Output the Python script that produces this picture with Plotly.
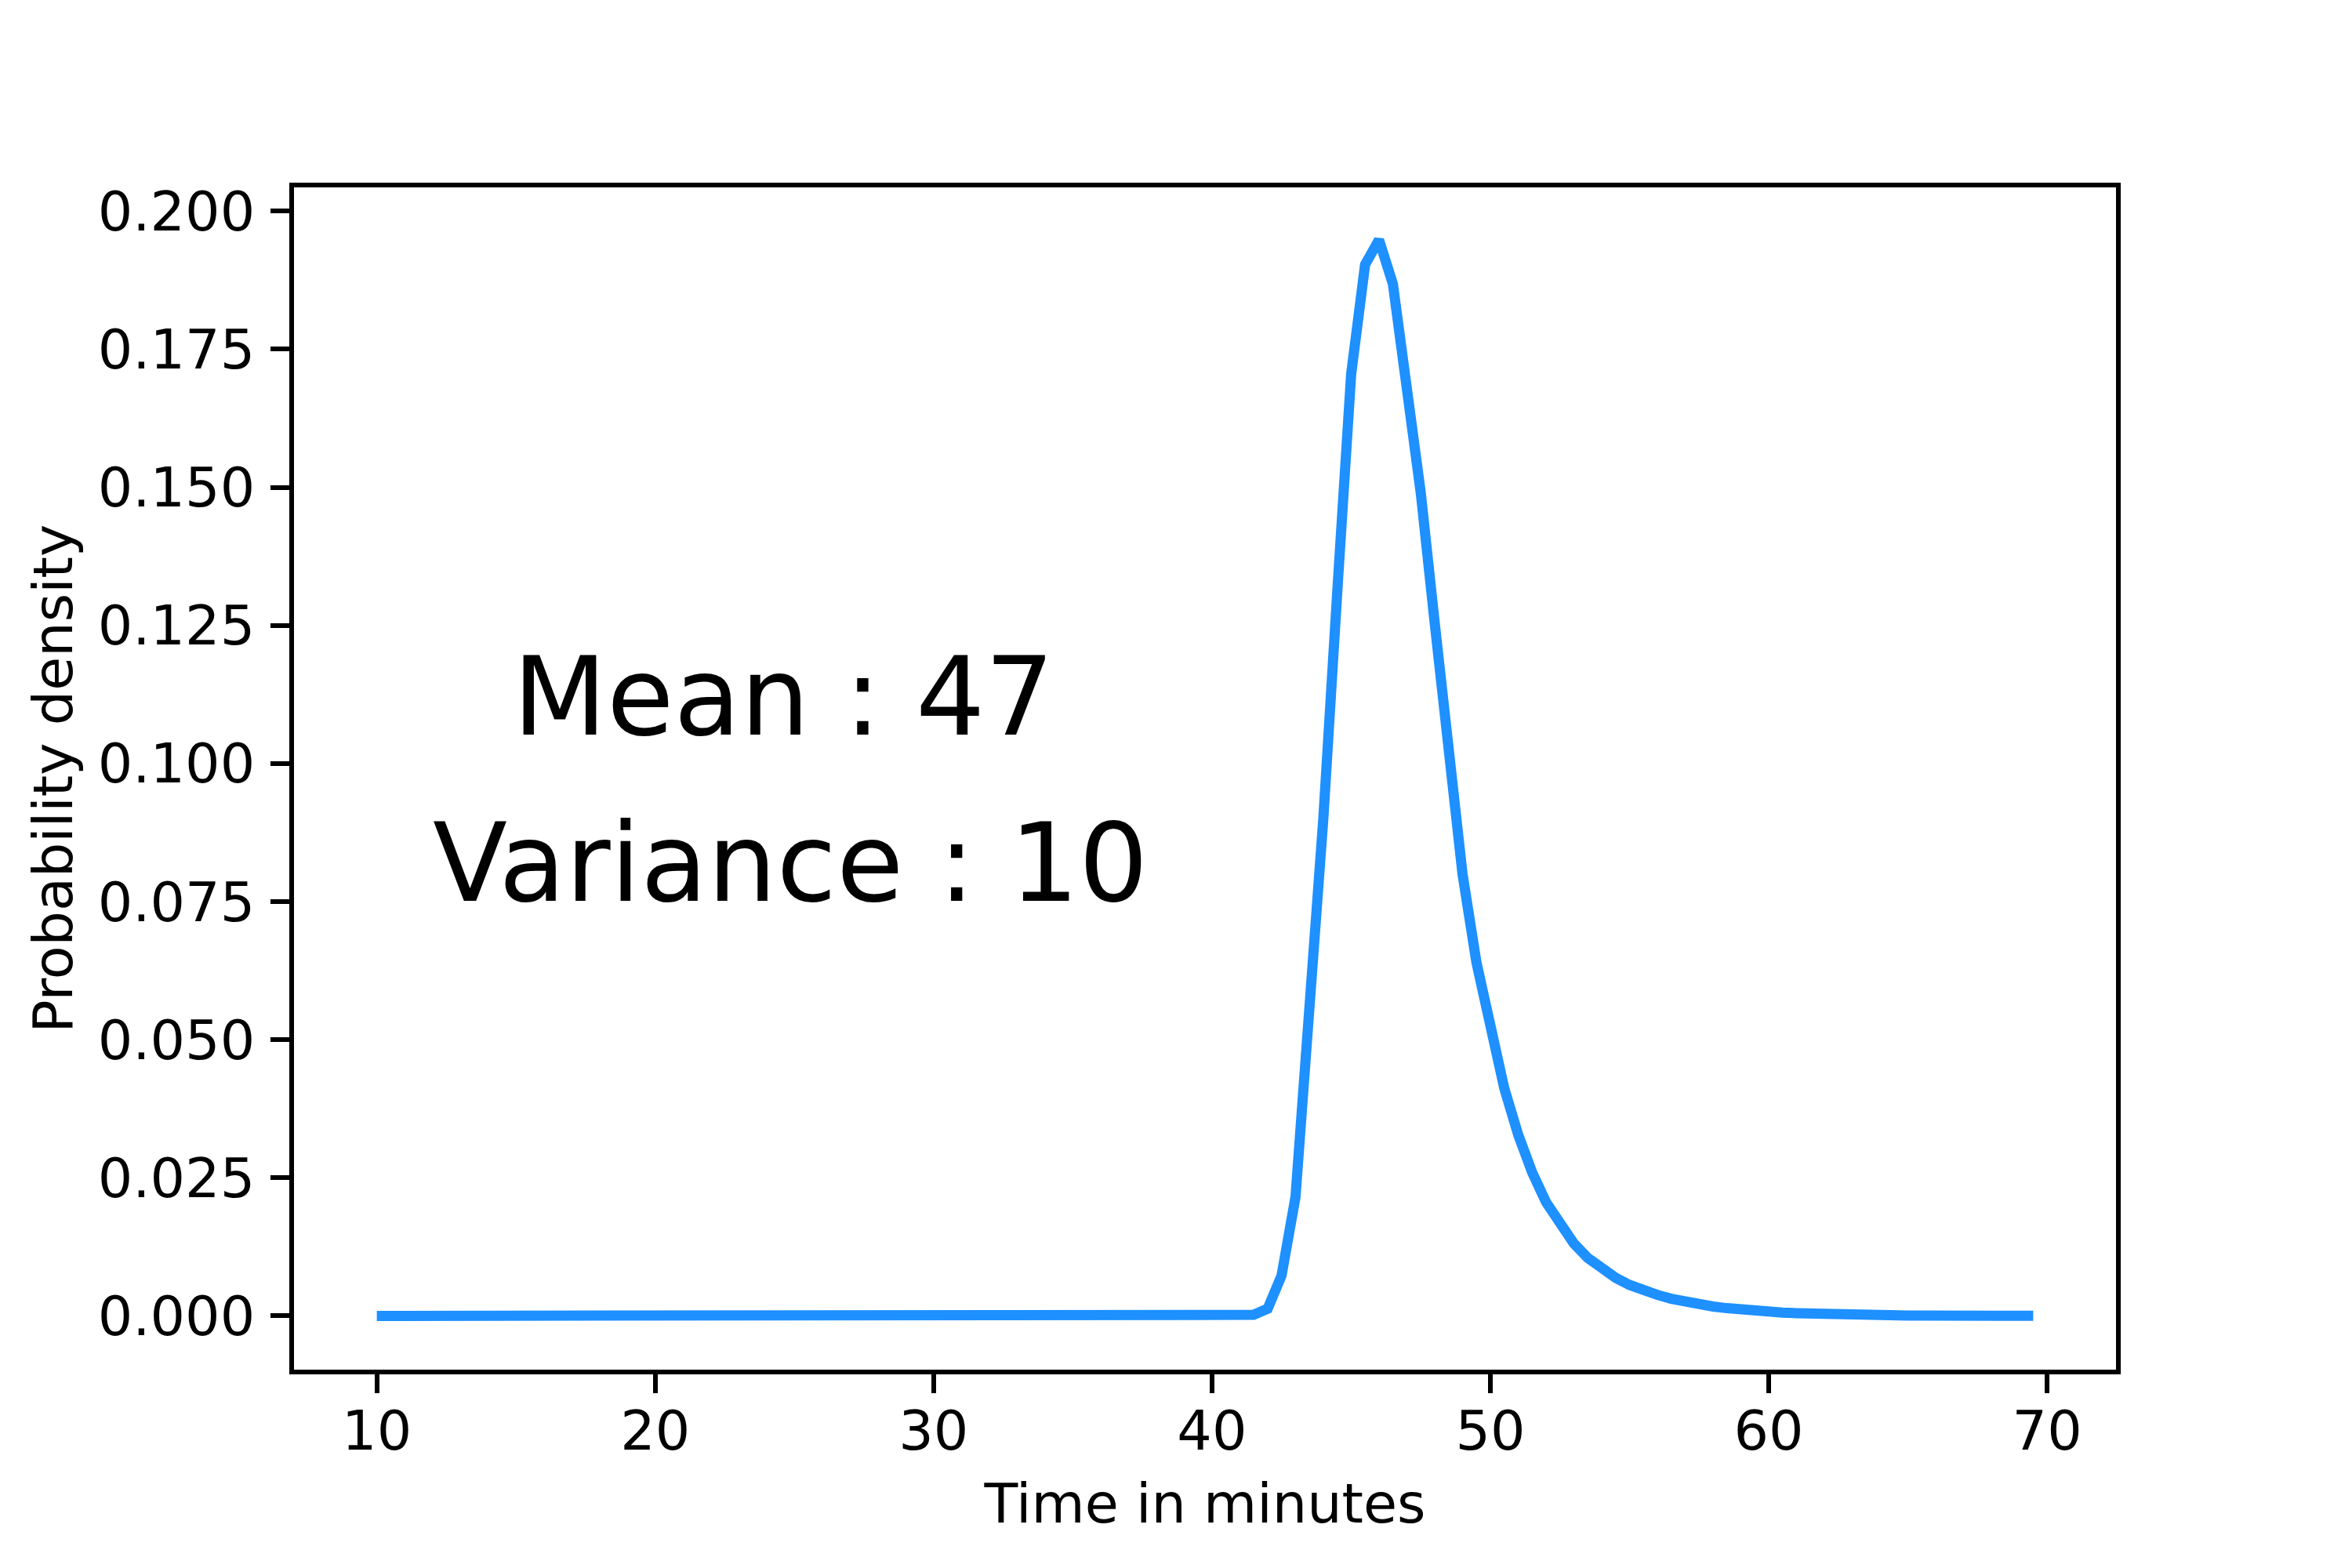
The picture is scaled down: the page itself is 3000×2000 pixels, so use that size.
import plotly.graph_objects as go

# ---- data ----
x_minutes = [10 + 0.5 * i for i in range(120)]  # 10.0 .. 69.5

density_by_minute = {
    41.0: 0.0000, 41.5: 0.0002, 42.0: 0.0013, 42.5: 0.0073, 43.0: 0.0215,
    43.5: 0.0530, 44.0: 0.0900, 44.5: 0.1310, 45.0: 0.1705, 45.5: 0.1903,
    46.0: 0.1948, 46.5: 0.1868, 47.0: 0.1695, 47.5: 0.1490, 48.0: 0.1255,
    48.5: 0.1010, 49.0: 0.0800, 49.5: 0.0640, 50.0: 0.0515, 50.5: 0.0412,
    51.0: 0.0328, 51.5: 0.0260, 52.0: 0.0206, 52.5: 0.0164, 53.0: 0.0131,
    53.5: 0.0105, 54.0: 0.0085, 54.5: 0.0069, 55.0: 0.0056, 55.5: 0.0046,
    56.0: 0.0038, 56.5: 0.0031, 57.0: 0.0025, 57.5: 0.0021, 58.0: 0.0017,
    58.5: 0.0014, 59.0: 0.0011, 59.5: 0.0009, 60.0: 0.0007, 60.5: 0.0006,
    61.0: 0.0005, 61.5: 0.0004, 62.0: 0.0003, 62.5: 0.00025, 63.0: 0.0002,
    63.5: 0.00015, 64.0: 0.00012, 64.5: 0.0001, 65.0: 0.00008, 65.5: 0.00006,
    66.0: 0.00005, 66.5: 0.00004, 67.0: 0.00003, 67.5: 0.00002, 68.0: 0.00002,
    68.5: 0.00001, 69.0: 0.00001, 69.5: 0.00001,
}
density = [density_by_minute.get(x, 0.0) for x in x_minutes]

x_ticks = [10, 20, 30, 40, 50, 60, 70]
y_ticks = [0.0, 0.025, 0.05, 0.075, 0.1, 0.125, 0.15, 0.175, 0.2]
y_tick_labels = ["0.000", "0.025", "0.050", "0.075", "0.100", "0.125", "0.150", "0.175", "0.200"]

stat_lines = ["Mean : 47", "Variance : 10"]
stat_x = [24.6, 24.87]
stat_y = [0.112, 0.082]

FONT = "DejaVu Sans"

fig = go.Figure()
fig.add_trace(go.Scatter(
    x=x_minutes, y=density, mode="lines",
    line=dict(color="#1E90FF", width=13),
    showlegend=False,
))

for txt, xx, yy in zip(stat_lines, stat_x, stat_y):
    fig.add_annotation(
        x=xx, y=yy, xref="x", yref="y", text=txt, showarrow=False,
        xanchor="center", yanchor="middle",
        font=dict(family=FONT, size=139, color="black"),
    )

axis_common = dict(
    showline=True, linecolor="black", linewidth=5.6, mirror=True,
    ticks="outside", ticklen=24, tickwidth=5.6, tickcolor="black",
    showgrid=False, zeroline=False,
    tickfont=dict(family=FONT, size=70, color="black"),
)

fig.update_xaxes(
    range=[7.025, 72.475], tickmode="array", tickvals=x_ticks,
    ticktext=[str(v) for v in x_ticks], ticklabelstandoff=-12,
    title=dict(text="Time in minutes", font=dict(family=FONT, size=70, color="black"), standoff=30),
    **axis_common,
)
fig.update_yaxes(
    range=[-0.00973, 0.2043], tickmode="array", tickvals=y_ticks,
    ticktext=y_tick_labels, ticklabelstandoff=6,
    title=dict(text="Probability density", font=dict(family=FONT, size=70, color="black"), standoff=11),
    **axis_common,
)

fig.update_layout(
    width=3000, height=2000,
    margin=dict(l=367, r=309, t=231, b=261),
    paper_bgcolor="white", plot_bgcolor="white",
    font=dict(family=FONT, color="black"),
)

fig.write_html("out.html")
